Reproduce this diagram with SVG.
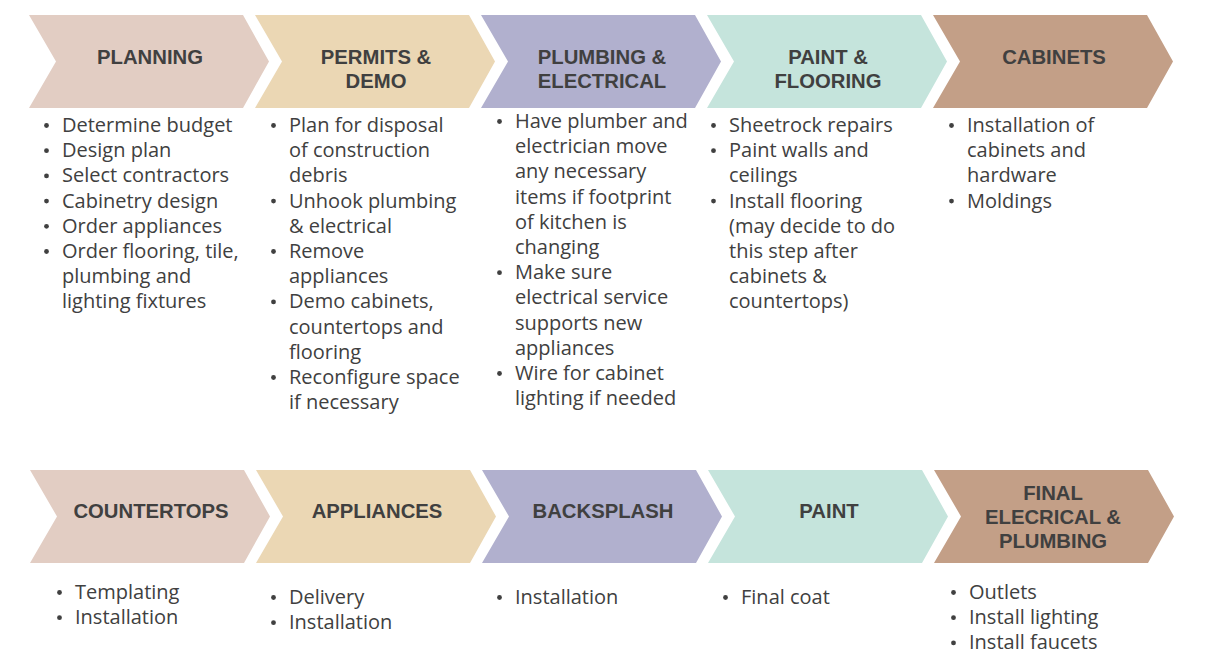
<svg xmlns="http://www.w3.org/2000/svg" width="1206" height="660" viewBox="0 0 1206 660">
<defs>
<style>
.t{font-family:"Liberation Sans",Arial,sans-serif;font-weight:bold;font-size:20.3px;fill:#404040;text-anchor:middle}
.b{font-family:"Open Sans","Noto Sans",sans-serif;font-size:20px;fill:#404040}
.d{fill:#404040}
.c1{fill:#E2CDC3}.c2{fill:#EBD7B4}.c3{fill:#B1B0CE}.c4{fill:#C5E4DC}.c5{fill:#C39F87}
</style>
<polygon id="chev" points="0,0 214,0 240,46.5 214,93 0,93 27,46.5"/>
</defs>
<rect width="1206" height="660" fill="#ffffff"/>
<g id="connectors"/>

<g id="planning">
<use href="#chev" x="29" y="15" class="c1"/>
<text class="t" x="150" y="64">PLANNING</text>
<g class="d"><circle cx="46.5" cy="125.5" r="2.4"/><circle cx="46.5" cy="150.7" r="2.4"/><circle cx="46.5" cy="175.9" r="2.4"/><circle cx="46.5" cy="201.1" r="2.4"/><circle cx="46.5" cy="226.3" r="2.4"/><circle cx="46.5" cy="251.5" r="2.4"/></g>
<text class="b"><tspan x="62" y="132">Determine budget</tspan><tspan x="62" y="157.2">Design plan</tspan><tspan x="62" y="182.4">Select contractors</tspan><tspan x="62" y="207.6">Cabinetry design</tspan><tspan x="62" y="232.8">Order appliances</tspan><tspan x="62" y="258">Order flooring, tile,</tspan><tspan x="62" y="283.2">plumbing and</tspan><tspan x="62" y="308.4">lighting fixtures</tspan></text>
</g>

<g id="permits">
<use href="#chev" x="255" y="15" class="c2"/>
<text class="t"><tspan x="376" y="64">PERMITS &amp;</tspan><tspan x="376" y="88">DEMO</tspan></text>
<g class="d"><circle cx="273.5" cy="125.5" r="2.4"/><circle cx="273.5" cy="201.1" r="2.4"/><circle cx="273.5" cy="251.5" r="2.4"/><circle cx="273.5" cy="301.9" r="2.4"/><circle cx="273.5" cy="377.5" r="2.4"/></g>
<text class="b"><tspan x="289" y="132">Plan for disposal</tspan><tspan x="289" y="157.2">of construction</tspan><tspan x="289" y="182.4">debris</tspan><tspan x="289" y="207.6">Unhook plumbing</tspan><tspan x="289" y="232.8">&amp; electrical</tspan><tspan x="289" y="258">Remove</tspan><tspan x="289" y="283.2">appliances</tspan><tspan x="289" y="308.4">Demo cabinets,</tspan><tspan x="289" y="333.6">countertops and</tspan><tspan x="289" y="358.8">flooring</tspan><tspan x="289" y="384">Reconfigure space</tspan><tspan x="289" y="409.2">if necessary</tspan></text>
</g>

<g id="plumbing-electrical">
<use href="#chev" x="481" y="15" class="c3"/>
<text class="t"><tspan x="602" y="64">PLUMBING &amp;</tspan><tspan x="602" y="88">ELECTRICAL</tspan></text>
<g class="d"><circle cx="499.5" cy="121.5" r="2.4"/><circle cx="499.5" cy="272.7" r="2.4"/><circle cx="499.5" cy="373.5" r="2.4"/></g>
<text class="b"><tspan x="515" y="128">Have plumber and</tspan><tspan x="515" y="153.2">electrician move</tspan><tspan x="515" y="178.4">any necessary</tspan><tspan x="515" y="203.6">items if footprint</tspan><tspan x="515" y="228.8">of kitchen is</tspan><tspan x="515" y="254">changing</tspan><tspan x="515" y="279.2">Make sure</tspan><tspan x="515" y="304.4">electrical service</tspan><tspan x="515" y="329.6">supports new</tspan><tspan x="515" y="354.8">appliances</tspan><tspan x="515" y="380">Wire for cabinet</tspan><tspan x="515" y="405.2">lighting if needed</tspan></text>
</g>

<g id="paint-flooring">
<use href="#chev" x="707" y="15" class="c4"/>
<text class="t"><tspan x="828" y="64">PAINT &amp;</tspan><tspan x="828" y="88">FLOORING</tspan></text>
<g class="d"><circle cx="713.5" cy="125.5" r="2.4"/><circle cx="713.5" cy="150.7" r="2.4"/><circle cx="713.5" cy="201.1" r="2.4"/></g>
<text class="b"><tspan x="729" y="132">Sheetrock repairs</tspan><tspan x="729" y="157.2">Paint walls and</tspan><tspan x="729" y="182.4">ceilings</tspan><tspan x="729" y="207.6">Install flooring</tspan><tspan x="729" y="232.8">(may decide to do</tspan><tspan x="729" y="258">this step after</tspan><tspan x="729" y="283.2">cabinets &amp;</tspan><tspan x="729" y="308.4">countertops)</tspan></text>
</g>

<g id="cabinets">
<use href="#chev" x="933" y="15" class="c5"/>
<text class="t" x="1054" y="64">CABINETS</text>
<g class="d"><circle cx="951.5" cy="125.5" r="2.4"/><circle cx="951.5" cy="201.1" r="2.4"/></g>
<text class="b"><tspan x="967" y="132">Installation of</tspan><tspan x="967" y="157.2">cabinets and</tspan><tspan x="967" y="182.4">hardware</tspan><tspan x="967" y="207.6">Moldings</tspan></text>
</g>

<g id="countertops">
<use href="#chev" x="30" y="470" class="c1"/>
<text class="t" x="151" y="518">COUNTERTOPS</text>
<g class="d"><circle cx="59.5" cy="592.5" r="2.4"/><circle cx="59.5" cy="617.7" r="2.4"/></g>
<text class="b"><tspan x="75" y="598.5">Templating</tspan><tspan x="75" y="623.7">Installation</tspan></text>
</g>

<g id="appliances">
<use href="#chev" x="256" y="470" class="c2"/>
<text class="t" x="377" y="518">APPLIANCES</text>
<g class="d"><circle cx="273.5" cy="597.5" r="2.4"/><circle cx="273.5" cy="622.7" r="2.4"/></g>
<text class="b"><tspan x="289" y="603.5">Delivery</tspan><tspan x="289" y="628.7">Installation</tspan></text>
</g>

<g id="backsplash">
<use href="#chev" x="482" y="470" class="c3"/>
<text class="t" x="603" y="518">BACKSPLASH</text>
<g class="d"><circle cx="499.5" cy="597.5" r="2.4"/></g>
<text class="b" x="515" y="603.5">Installation</text>
</g>

<g id="paint">
<use href="#chev" x="708" y="470" class="c4"/>
<text class="t" x="829" y="518">PAINT</text>
<g class="d"><circle cx="725.5" cy="597.5" r="2.4"/></g>
<text class="b" x="741" y="603.5">Final coat</text>
</g>

<g id="final-electrical-plumbing">
<use href="#chev" x="934" y="470" class="c5"/>
<text class="t"><tspan x="1053" y="499.5">FINAL</tspan><tspan x="1053" y="523.5">ELECRICAL &amp;</tspan><tspan x="1053" y="547.5">PLUMBING</tspan></text>
<g class="d"><circle cx="953.5" cy="592.5" r="2.4"/><circle cx="953.5" cy="617.7" r="2.4"/><circle cx="953.5" cy="642.9" r="2.4"/></g>
<text class="b"><tspan x="969" y="598.5">Outlets</tspan><tspan x="969" y="623.7">Install lighting</tspan><tspan x="969" y="648.9">Install faucets</tspan></text>
</g>
</svg>
